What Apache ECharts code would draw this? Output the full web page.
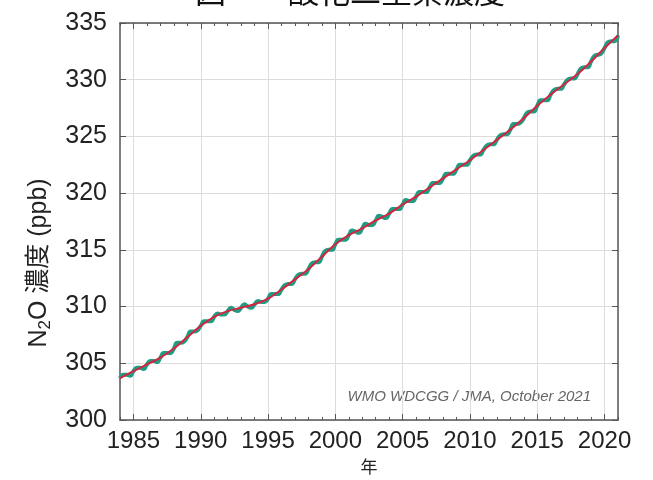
<!DOCTYPE html>
<html>
<head>
<meta charset="utf-8">
<script src="https://cdn.jsdelivr.net/npm/echarts@6/dist/echarts.min.js"></script>
<style>
html,body{margin:0;padding:0;background:#fff;}
#chart{width:653px;height:480px;}
</style>
</head>
<body>
<div id="chart"></div>
<script>
// ---- data ----
const titleText = '図　一酸化二窒素濃度';
const xAxisTitle = '年';
const creditText = 'WMO WDCGG / JMA, October 2021';
const majorYears = [1985, 1990, 1995, 2000, 2005, 2010, 2015, 2020];
const trendYears = [1984,1985,1986,1987,1988,1989,1990,1991,1992,1993,1994,1995,1996,1997,1998,1999,2000,2001,2002,2003,2004,2005,2006,2007,2008,2009,2010,2011,2012,2013,2014,2015,2016,2017,2018,2019,2020,2021];
const trendValues = [303.7,304.3,304.9,305.5,306.3,307.3,308.3,309.1,309.6,309.9,310.2,310.7,311.5,312.4,313.3,314.4,315.5,316.3,316.9,317.6,318.2,319.0,319.7,320.5,321.3,322.1,322.9,323.8,324.7,325.6,326.6,327.7,328.7,329.6,330.5,331.6,332.8,333.9];
// quarterly (Jan, Apr, Jul, Oct) values starting 1984
const quarterStart = 1984;
const quarterValues = [
303.7,304.0,304.0,303.9, 304.3,304.6,304.6,304.5, 304.9,305.2,305.2,305.1, 305.5,305.9,305.9,305.9,
306.3,306.8,306.8,306.9, 307.3,307.8,307.8,307.9, 308.3,308.7,308.7,308.7, 309.1,309.4,309.3,309.3,
309.6,309.9,309.7,309.6, 309.9,310.2,310.0,309.9, 310.2,310.5,310.4,310.4, 310.7,311.1,311.1,311.1,
311.5,311.9,312.0,312.0, 312.4,312.8,312.9,312.9, 313.3,313.8,313.9,313.9, 314.4,314.9,315.0,315.0,
315.5,315.9,315.9,315.9, 316.3,316.7,316.6,316.5, 316.9,317.3,317.2,317.2, 317.6,318.0,317.9,317.8,
318.2,318.6,318.6,318.6, 319.0,319.4,319.3,319.3, 319.7,320.1,320.1,320.1, 320.5,320.9,320.9,320.9,
321.3,321.7,321.7,321.7, 322.1,322.5,322.5,322.5, 322.9,323.3,323.4,323.4, 323.8,324.2,324.3,324.3,
324.7,325.1,325.2,325.2, 325.6,326.1,326.1,326.2, 326.6,327.1,327.2,327.2, 327.7,328.2,328.2,328.2,
328.7,329.1,329.2,329.2, 329.6,330.0,330.1,330.1, 330.5,331.0,331.1,331.1, 331.6,332.1,332.2,332.3,
332.8,333.3,333.4,333.4, 333.9
];

// ---- chart ----
const latin = "'Liberation Sans', Arimo, Helvetica, Arial, sans-serif";
const mixed = "'Liberation Sans', 'Noto Sans CJK JP', sans-serif";
const axisColor = '#555';
const gridColor = '#dcdcdc';
const clear = 'rgba(0,0,0,0)';

const quarterData = quarterValues.map((v, i) => [quarterStart + i * 0.25, v]);
const trendData = trendValues.map((v, i) => [trendYears[i], v]);

const chart = echarts.init(document.getElementById('chart'), null, {renderer: 'canvas'});

const xCommon = {type: 'value', min: 1984, max: 2021, interval: 1};
const option = {
  animation: false,
  backgroundColor: '#fff',
  grid: {left: 120, right: 35, top: 23, bottom: 60, containLabel: false, outerBoundsMode: 'none'},
  graphic: [
    {type: 'text', x: 350, y: -9, style: {text: titleText, fill: '#111', font: "31px 'Noto Sans CJK JP', sans-serif", textAlign: 'center', textVerticalAlign: 'middle'}},
    {type: 'text', x: 39, y: 263, rotation: Math.PI / 2,
      style: {
        text: '{n|N}{s|2}{n|O 濃度 (ppb)}',
        textAlign: 'center', textVerticalAlign: 'middle',
        rich: {
          n: {fontSize: 25, fontFamily: mixed, fill: '#222', lineHeight: 30},
          s: {fontSize: 17, fontFamily: latin, fill: '#222', lineHeight: 30, verticalAlign: 'bottom', padding: [8, 0, 0, 0]}
        }
      }},
    {type: 'text', right: 62, top: 389, style: {text: creditText, fill: '#666', font: "italic 15px " + latin, textAlign: 'left'}}
  ],
  xAxis: [
    Object.assign({}, xCommon, {
      position: 'bottom',
      name: xAxisTitle, nameLocation: 'middle', nameGap: 38,
      nameTextStyle: {fontSize: 17, color: '#222', fontFamily: "'Noto Sans CJK JP', sans-serif"},
      axisLine: {show: true, lineStyle: {color: axisColor, width: 1.5}},
      axisTick: {show: true, inside: true, length: 3, lineStyle: {color: axisColor}},
      axisLabel: {formatter: v => (majorYears.indexOf(v) >= 0 ? String(v) : ''), margin: 9, fontSize: 24, color: '#222', fontFamily: latin},
      splitLine: {show: true, lineStyle: {color: [clear, gridColor, clear, clear, clear], width: 1}}
    }),
    Object.assign({}, xCommon, {
      position: 'bottom',
      axisLine: {show: false},
      axisTick: {show: true, inside: true, length: 6, customValues: majorYears, lineStyle: {color: axisColor}},
      axisLabel: {show: false},
      splitLine: {show: false}
    }),
    Object.assign({}, xCommon, {
      position: 'top',
      axisLine: {show: true, lineStyle: {color: axisColor, width: 1.5}},
      axisTick: {show: true, inside: true, length: 3, lineStyle: {color: axisColor}},
      axisLabel: {show: false},
      splitLine: {show: false}
    }),
    Object.assign({}, xCommon, {
      position: 'top',
      axisLine: {show: false},
      axisTick: {show: true, inside: true, length: 6, customValues: majorYears, lineStyle: {color: axisColor}},
      axisLabel: {show: false},
      splitLine: {show: false}
    })
  ],
  yAxis: [
    {type: 'value', position: 'left', min: 300, max: 335, interval: 5,
      axisLine: {show: true, lineStyle: {color: axisColor, width: 1.5}},
      axisTick: {show: true, inside: true, length: 6, lineStyle: {color: axisColor}},
      axisLabel: {margin: 13, fontSize: 25, color: '#222', fontFamily: latin},
      splitLine: {show: true, lineStyle: {color: gridColor, width: 1}}
    },
    {type: 'value', position: 'right', min: 300, max: 335, interval: 5,
      axisLine: {show: true, lineStyle: {color: axisColor, width: 1.5}},
      axisTick: {show: true, inside: true, length: 6, lineStyle: {color: axisColor}},
      axisLabel: {show: false},
      splitLine: {show: false}
    }
  ],
  series: [
    {type: 'line', name: 'monthly', xAxisIndex: 0, yAxisIndex: 0, data: quarterData, smooth: 0.5,
      showSymbol: false, lineStyle: {color: '#1f9d84', width: 4}, z: 2},
    {type: 'line', name: 'trend', xAxisIndex: 0, yAxisIndex: 0, data: trendData, smooth: 0.4,
      showSymbol: false, lineStyle: {color: '#d6243f', width: 2}, z: 3}
  ]
};
chart.setOption(option);
</script>
</body>
</html>
